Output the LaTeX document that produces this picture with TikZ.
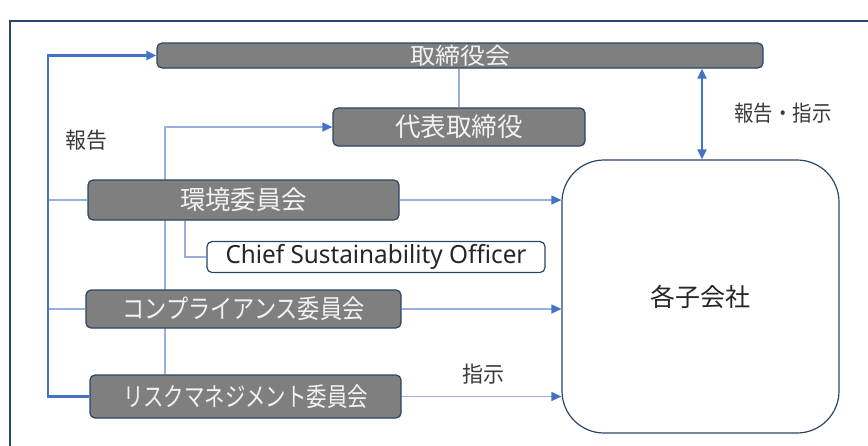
\documentclass[tikz,border=0pt]{standalone}
\usepackage{fontspec}
\usepackage{graphicx}
\setmainfont{Noto Sans CJK JP}
\newfontfamily\latinfont{Noto Sans}
\usetikzlibrary{arrows.meta,backgrounds}
\definecolor{cnavy}{HTML}{2B4467}
\definecolor{cgray}{HTML}{7F7F7F}
\definecolor{ctext}{HTML}{F2F2F2}
\definecolor{cdark}{HTML}{3A3A3A}
\definecolor{cblue}{HTML}{4472C4}
\definecolor{clight}{HTML}{98B0DC}
\newcommand\fw[2]{\resizebox{#1pt}{\height}{#2}}
\tikzset{
  graybox/.style={draw=cnavy, fill=cgray, line width=1.2pt, rounded corners=5pt,
    text=ctext, inner sep=0pt, font=\fontsize{26}{26}\selectfont},
  whitebox/.style={draw=cnavy, fill=white, line width=1.2pt, inner sep=0pt,
    text=cdark},
  lbl/.style={text=cdark, inner sep=0pt, font=\fontsize{22}{22}\selectfont},
  thinline/.style={draw=clight, line width=1.2pt},
  thickline/.style={draw=cblue, line width=2.6pt},
  tip/.style={-{Triangle[length=10pt,width=9pt,color=cblue]}},
  dtip/.style={{Triangle[length=10pt,width=9pt,color=cblue]}-{Triangle[length=10pt,width=9pt,color=cblue]}}
}
\begin{document}
\begin{tikzpicture}[x=1pt,y=-1pt]
\useasboundingbox (0,0) rectangle (868,445);
\draw[cnavy, line width=1.5pt] (10,446) -- (10,21) -- (869,21);

\coordinate (busx) at (48,0);
\coordinate (vx) at (165,0);
\coordinate (csox) at (185,0);
\coordinate (dax) at (702,0);

\node[graybox, minimum width=606pt, minimum height=25pt, font=\fontsize{23}{23}\selectfont] (board) at (460,55.5) {\fw{100}{取締役会}};
\node[graybox, minimum width=252pt, minimum height=38pt] (rep) at (459,127) {\fw{128}{代表取締役}};
\node[graybox, minimum width=311pt, minimum height=40pt] (env) at (243.5,200) {\fw{127}{環境委員会}};
\node[whitebox, rounded corners=5pt, minimum width=338pt, minimum height=31pt, font=\latinfont\fontsize{25}{25}\selectfont, text=black!85] (cso) at (376,257) {\fw{301}{Chief Sustainability Officer}};
\node[graybox, minimum width=315pt, minimum height=38pt] (comp) at (243.5,309) {\fw{242}{コンプライアンス委員会}};
\node[graybox, minimum width=311pt, minimum height=43pt] (risk) at (245.5,396.5) {\fw{245}{リスクマネジメント委員会}};
\node[whitebox, rounded corners=42pt, minimum width=277pt, minimum height=273pt, font=\fontsize{25}{25}\selectfont, text=black!85] (sub) at (700.5,296.5) {\fw{100}{各子会社}};

\node[lbl] (l1) at (86,140) {\fw{42}{報告}};
\node[lbl] (l2) at (783,113) {\fw{97}{報告・指示}};
\node[lbl] (l3) at (483,374) {\fw{42}{指示}};

\begin{scope}[on background layer]
  \draw[thinline] (env.west) -- (env.west -| busx);
  \draw[thinline] (comp.west) -- (comp.west -| busx);
  \draw[thinline, tip] (risk.north -| vx) -- (rep.west -| vx) -- (rep.west);
  \draw[thinline] (rep.north) -- (rep.north |- board.south);
  \draw[thinline] (env.south -| csox) |- (cso.west);
  \draw[thickline, tip] (risk.west) -- (risk.west -| busx) -- (board.west -| busx) -- (board.west);
  \draw[thinline, tip] (env.east) -- (env.east -| sub.west);
  \draw[thinline, tip] (comp.east) -- (comp.east -| sub.west);
  \draw[thinline, tip] (risk.east) -- (risk.east -| sub.west);
  \draw[draw=cblue, line width=2pt, dtip] (board.south -| dax) -- (sub.north -| dax);
\end{scope}
\end{tikzpicture}
\end{document}
